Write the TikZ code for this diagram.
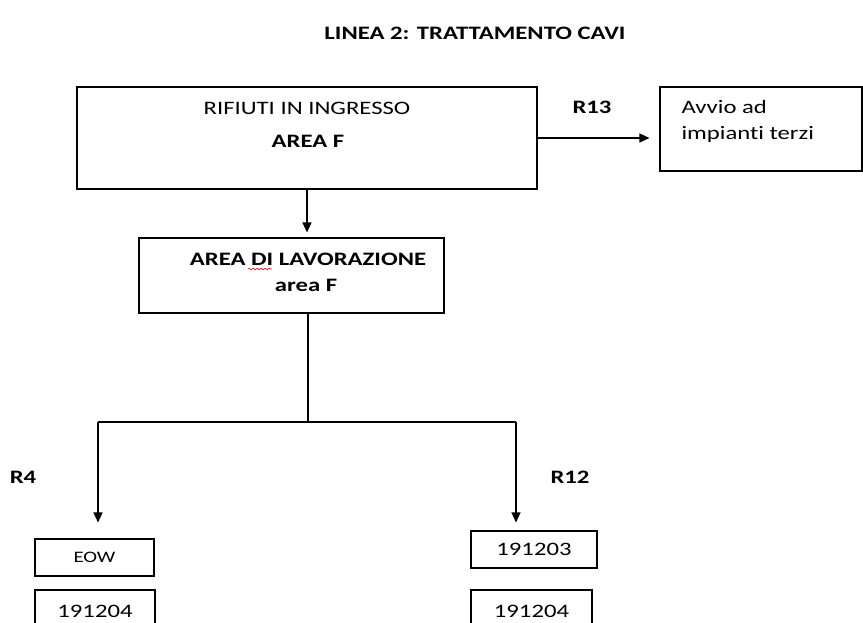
\documentclass[tikz,border=0pt]{standalone}
\usepackage{fontspec}
\setmainfont{Carlito}[FakeStretch=1.3, Ligatures=NoCommon]
\usetikzlibrary{arrows.meta,decorations.pathmorphing}

\tikzset{
  casella/.style={draw, line width=1.1pt, inner sep=0pt},
  freccia/.style={line width=1.1pt, -{Triangle[length=10pt,width=9pt]}},
  grassetto/.style={font=\fontsize{19}{22}\selectfont\bfseries},
}

\begin{document}
\begin{tikzpicture}[x=1pt,y=-1pt,font=\fontsize{19}{22}\selectfont]
\clip (0,0) rectangle (863,622);

\node[grassetto] (titolo) at (475,33) {LINEA 2: TRATTAMENTO CAVI};

\node[casella, minimum width=460, minimum height=102] (ingresso) at (307,138) {};
\node (ingresso1) at (307,108) {RIFIUTI IN INGRESSO};
\node[grassetto] (ingresso2) at (308,141) {AREA F};

\node[grassetto] (r13) at (592,107) {R13};
\node[casella, minimum width=202, minimum height=84] (terzi) at (761,129) {};
\node[align=left, anchor=west, font=\fontsize{19}{26}\selectfont] (terzi1) at (678,121) {Avvio ad\\impianti terzi};

\node[casella, minimum width=305, minimum height=75] (lavorazione) at (291.5,275.5) {};
\node[grassetto] (lavorazione1) at (308,259) {AREA DI LAVORAZIONE};
\node[grassetto] (lavorazione2) at (306,285) {area F};
\draw[red, line width=0.6pt, decorate, decoration={snake, amplitude=0.8pt, segment length=4pt}] (248,269) -- (272,269);

\node[grassetto] (r4) at (23,477) {R4};
\node[grassetto] (r12) at (570,477) {R12};

\node[casella, minimum width=119, minimum height=37, font=\fontsize{16}{18}\selectfont] (eow) at (94.5,557.5) {EOW};
\node[casella, minimum width=120, minimum height=42] (cer1) at (95,611) {191204};
\node[casella, minimum width=126, minimum height=37] (cer2) at (534,549.5) {191203};
\node[casella, minimum width=121, minimum height=42] (cer3) at (531.5,611) {191204};

\coordinate (nodo) at (308,422);
\coordinate (sx) at (98,422);
\coordinate (dx) at (516,422);

\draw[freccia, shorten >=10pt] (ingresso.east) -- (terzi.west |- ingresso.east);
\draw[freccia, shorten >=5pt] (ingresso.south) -- (lavorazione.north -| ingresso.south);
\draw[line width=1.1pt] (lavorazione.south -| nodo) -- (nodo);
\draw[line width=1.1pt] (sx) -- (dx);
\draw[freccia, shorten >=16pt] (sx) -- (sx |- eow.north);
\draw[freccia, shorten >=8pt] (dx) -- (dx |- cer2.north);

\end{tikzpicture}
\end{document}
